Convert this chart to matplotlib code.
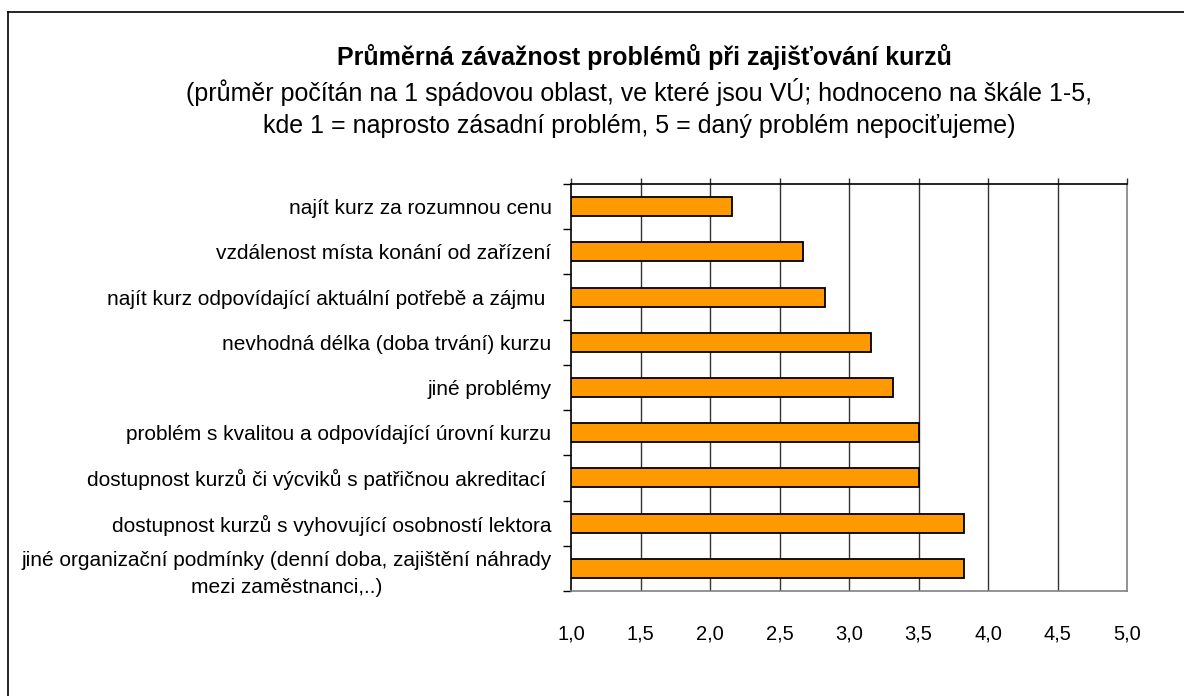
import numpy as np
import matplotlib
matplotlib.use("Agg")
import matplotlib.pyplot as plt
from matplotlib.lines import Line2D

plt.rcParams["font.family"] = ["Liberation Sans", "DejaVu Sans"]

categories = [
    "najít kurz za rozumnou cenu",
    "vzdálenost místa konání od zařízení",
    "najít kurz odpovídající aktuální potřebě a zájmu ",
    "nevhodná délka (doba trvání) kurzu",
    "jiné problémy",
    "problém s kvalitou a odpovídající úrovní kurzu",
    "dostupnost kurzů či výcviků s patřičnou akreditací ",
    "dostupnost kurzů s vyhovující osobností lektora",
    "jiné organizační podmínky (denní doba, zajištění náhrady\nmezi zaměstnanci,..)",
]
values = [2.16, 2.67, 2.83, 3.16, 3.32, 3.50, 3.50, 3.83, 3.83]
xticks = [1.0, 1.5, 2.0, 2.5, 3.0, 3.5, 4.0, 4.5, 5.0]
xtick_labels = [f"{t:.1f}".replace(".", ",") for t in xticks]

title = "Průměrná závažnost problémů při zajišťování kurzů"
subtitle = ("(průměr počítán na 1 spádovou oblast, ve které jsou VÚ; hodnoceno na škále 1-5,\n"
            "kde 1 = naprosto zásadní problém, 5 = daný problém nepociťujeme)")

W, H = 1184, 696
fig = plt.figure(figsize=(W / 100, H / 100), dpi=100)
ax = fig.add_axes([571 / W, 1 - 591 / H, (1127 - 571) / W, (591 - 184) / H])

y = np.arange(len(categories))
left = 1.0
ax.barh(y, np.array(values) - left, left=left, height=0.42,
        color="#FF9900", edgecolor="black", linewidth=1.3, zorder=3)

ax.set_xlim(1.0, 5.0)
ax.set_ylim(len(categories) - 0.5, -0.5)
ax.set_xticks(xticks)
ax.set_xticklabels(xtick_labels, fontsize=14.5)
for t in xticks[1:-1]:
    ax.axvline(t, color="#333333", linewidth=1.0, zorder=1)

ax.tick_params(axis="x", top=True, bottom=False, labeltop=False, labelbottom=True,
               direction="out", length=4, width=1, pad=20, color="#333333")
ax.set_yticks(y)
ax.set_yticklabels(categories, fontsize=15, multialignment="center", linespacing=1.5)
ax.tick_params(axis="y", which="major", length=0, pad=14)
ax.set_yticks(np.arange(len(categories) + 1) - 0.5, minor=True)
ax.tick_params(axis="y", which="minor", length=6, width=1, direction="out", color="black")

ax.spines["left"].set_color("black")
ax.spines["left"].set_linewidth(1.2)
ax.spines["top"].set_color("black")
ax.spines["top"].set_linewidth(1.2)
ax.spines["right"].set_color("#808080")
ax.spines["right"].set_linewidth(1.2)
ax.spines["bottom"].set_color("#808080")
ax.spines["bottom"].set_linewidth(1.2)

fig.text(644 / W, 1 - 57 / H, title, ha="center", va="center",
         fontsize=18, fontweight="bold")
fig.text(639 / W, 1 - 108 / H, subtitle, ha="center", va="center",
         fontsize=18, linespacing=1.4)

# outer frame (top and left edges visible)
fig.add_artist(Line2D([8 / W, 1.0], [1 - 12 / H, 1 - 12 / H], color="black", linewidth=1.2))
fig.add_artist(Line2D([8 / W, 8 / W], [0.0, 1 - 12 / H], color="black", linewidth=1.2))

fig.savefig("out.png", dpi=100)
